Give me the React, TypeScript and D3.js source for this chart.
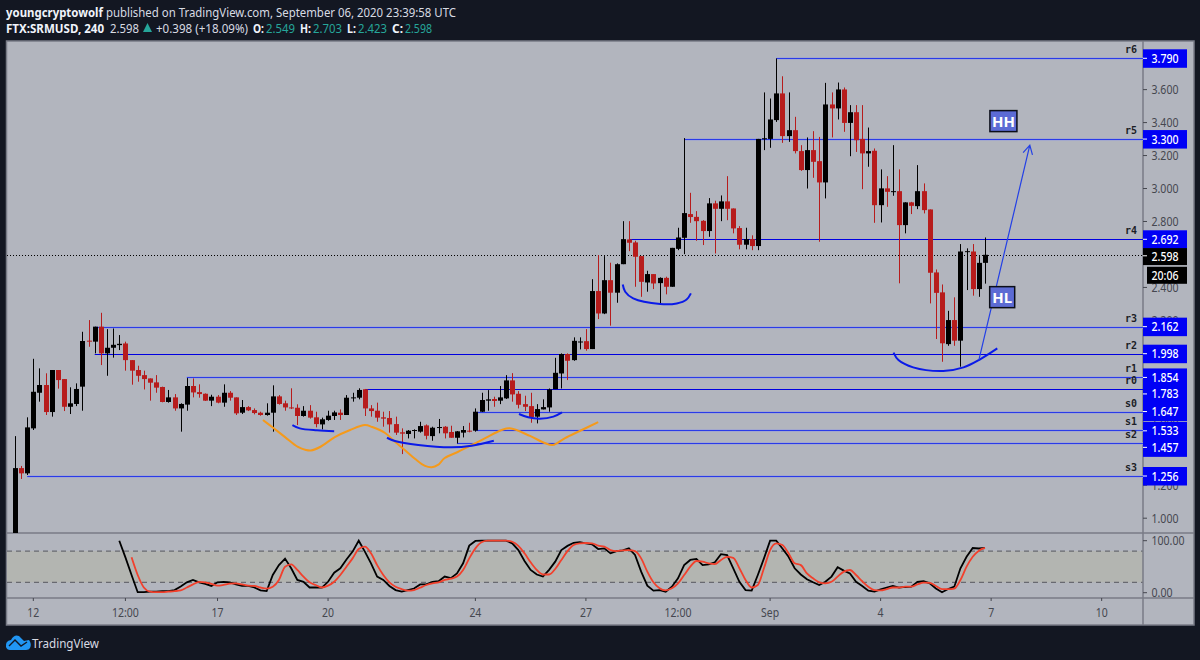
import React from "react";
import * as d3 from "d3";

// --- candles (index = 4h bar number) ---
const opens = [
  0.85,1.304,1.272,1.545,1.761,1.808,1.644,1.899,1.844,1.676,
  1.693,1.798,2.077,2.071,2.162,2.000,2.034,2.050,2.060,1.959,
  1.899,1.868,1.848,1.824,1.796,1.705,1.733,1.666,1.689,1.802,
  1.765,1.755,1.713,1.737,1.701,1.761,1.733,1.640,1.674,1.656,
  1.640,1.626,1.640,1.739,1.697,1.672,1.670,1.620,1.652,1.612,
  1.569,1.596,1.620,1.640,1.626,1.729,1.731,1.782,1.666,1.652,
  1.612,1.608,1.571,
  1.521,1.511,1.531,1.525,1.563,1.498,1.547,1.555,1.523,1.488,1.519,1.531,1.531,
  1.646,1.713,1.723,1.713,1.727,1.836,1.755,1.692,1.680,1.616,1.660,1.672,1.783,1.878,1.996,1.959,2.066,2.074,2.026,2.378,2.242,2.444,2.368,2.541,2.691,2.673,2.590,2.430,2.481,2.426,2.458,2.404,2.634,
  2.701,2.845,2.828,2.804,2.742,2.910,2.877,2.922,2.879,2.760,2.659,2.693,2.651,3.299,3.301,3.415,3.577,3.318,3.354,3.227,3.112,3.233,3.166,3.037,3.510,3.486,3.601,3.398,3.463,3.301,3.213,3.229,2.899,3.001,2.980,2.984,2.778,2.916,2.893,2.984,2.873,2.491,2.370,2.056,2.202,2.077,2.618,2.618,2.390,2.549,
];
const highs = [
  1.498,1.317,1.612,1.967,1.909,1.879,1.899,1.899,1.844,1.794,
  1.818,2.131,2.202,2.162,2.246,2.147,2.151,2.111,2.071,1.959,
  1.925,1.895,1.848,1.868,1.798,1.778,1.753,1.697,1.850,1.848,
  1.812,1.757,1.749,1.747,1.812,1.771,1.733,1.717,1.680,1.666,
  1.646,1.697,1.806,1.747,1.713,1.788,1.691,1.680,1.686,1.646,
  1.610,1.652,1.652,1.660,1.747,1.761,1.788,1.784,1.686,1.701,
  1.646,1.650,1.616,
  1.545,1.535,1.539,1.585,1.569,1.555,1.602,1.559,1.561,1.529,1.559,1.579,1.666,
  1.761,1.777,1.737,1.802,1.868,1.880,1.771,1.743,1.761,1.692,1.721,1.787,1.973,2.000,2.000,2.097,2.097,2.147,2.450,2.596,2.590,2.550,2.546,2.802,2.802,2.683,2.590,2.501,2.481,2.461,2.465,2.640,2.762,
  3.306,2.974,2.863,2.808,2.942,2.926,2.958,3.075,2.879,2.772,2.762,2.716,3.301,3.583,3.546,3.789,3.681,3.583,3.435,3.263,3.310,3.348,3.313,3.641,3.583,3.643,3.613,3.506,3.506,3.506,3.370,3.243,3.116,3.075,3.263,3.116,2.917,2.919,3.142,3.031,2.873,2.509,2.418,2.258,2.340,2.663,2.637,2.663,2.590,2.703,
];
const lows = [
  0.80,1.238,1.262,1.535,1.707,1.626,1.616,1.786,1.650,1.632,
  1.680,1.652,2.040,2.000,1.929,1.864,1.974,2.020,1.895,1.810,
  1.828,1.781,1.713,1.761,1.703,1.701,1.652,1.525,1.652,1.733,
  1.731,1.711,1.680,1.697,1.676,1.713,1.626,1.632,1.650,1.630,
  1.622,1.622,1.525,1.689,1.652,1.662,1.565,1.616,1.604,1.551,
  1.539,1.591,1.596,1.596,1.626,1.707,1.721,1.620,1.616,1.585,
  1.555,1.519,1.505,
  1.389,1.484,1.484,1.519,1.478,1.470,1.515,1.484,1.488,1.454,1.490,1.521,1.525,
  1.644,1.652,1.676,1.692,1.723,1.707,1.666,1.650,1.579,1.575,1.660,1.646,1.783,1.787,1.838,1.955,2.024,2.016,2.026,2.208,2.238,2.168,2.307,2.541,2.620,2.404,2.343,2.374,2.390,2.303,2.358,2.404,2.626,
  2.602,2.792,2.683,2.657,2.707,2.606,2.802,2.808,2.728,2.631,2.631,2.626,2.626,3.233,3.247,3.404,3.277,3.283,3.213,3.107,3.000,3.065,2.677,2.940,3.310,3.419,3.344,3.196,3.222,2.996,3.132,2.792,2.794,2.889,2.956,2.425,2.728,2.845,2.875,2.849,2.303,2.087,1.949,2.046,2.046,1.919,2.384,2.350,2.343,2.423,
];
const closes = [
  1.304,1.272,1.551,1.767,1.808,1.644,1.899,1.838,1.676,1.697,
  1.784,2.075,2.071,2.162,2.000,2.034,2.052,2.058,1.959,1.895,
  1.864,1.844,1.822,1.792,1.705,1.733,1.666,1.693,1.802,1.763,
  1.753,1.713,1.737,1.701,1.761,1.731,1.636,1.674,1.654,1.638,
  1.626,1.640,1.739,1.693,1.672,1.666,1.620,1.652,1.610,1.571,
  1.600,1.622,1.642,1.626,1.731,1.733,1.778,1.666,1.650,1.610,
  1.604,1.569,1.519,
  1.513,1.531,1.535,1.559,1.500,1.549,1.553,1.515,1.488,1.527,1.535,1.525,1.646,
  1.717,1.721,1.711,1.733,1.836,1.751,1.688,1.676,1.612,1.662,1.674,1.781,1.882,1.996,1.955,2.076,2.072,2.026,2.378,2.242,2.444,2.368,2.541,2.693,2.671,2.586,2.434,2.481,2.424,2.458,2.404,2.640,2.703,
  2.851,2.827,2.802,2.742,2.910,2.877,2.922,2.877,2.758,2.659,2.693,2.651,3.301,3.305,3.419,3.577,3.318,3.354,3.227,3.112,3.233,3.162,3.037,3.510,3.486,3.601,3.398,3.463,3.293,3.213,3.227,2.899,3.001,2.980,2.984,2.778,2.916,2.895,2.984,2.869,2.489,2.367,2.061,2.202,2.077,2.618,2.620,2.390,2.549,2.598,
];

// --- stochastic pane ---
const kStart = 17;
const kValues = [
  100,68,34,1,1,2,2,3,3,5,12,20,24.5,20,17,13,20,21,20,16,13,13,10,4.5,3,34,53,65.5,47,24.5,21,10,10,9.7,21,38.5,47,64,79,100,79,56.5,31,24.5,13,5,
  2,5,8,16,16,21,22,31,28,37,56.5,90.5,99.5,100,100,100,100,100,95,82,61,43.7,35,31,44,59.7,82,90,96,97,95,93,84,85.3,75.7,80,81.5,85.3,72.5,40.5,13.5,4,5,2,11.6,27.6,53,63,65,53,54.6,58.4,74,72.5,47,21,5,4,34,66,100,100,85,69,47,
  35,26,20,14.8,21,31,49,42.4,37,21,13,4,2,6.5,9.7,13,9.7,11,11.6,21,22,18,8,1,7,11.6,47,69,86,85,86,
];
const dStart = 19;
const dValues = [
  68,34,10,2,1,1,2,3,4.5,10,16,21,20,17,13.5,15,17.5,18,16,13.5,13,10,8,11.6,24.5,50,54.6,43.7,31,20,14.8,10,13.5,21,34,50,66,84,88.5,75.7,53,34,20,11.6,
  7,4,5,9.7,14.8,18,20,24.5,27,31,43.7,66,85.3,97,100,100,100,100,98,90,75.7,58.4,43.7,35,35,45.6,63,80,91.7,95,95.6,95,90.5,88.5,82,80,81.5,82,80,66,40.5,20,8.4,4.5,8.4,18,34,50,61,59.7,56.5,55,63,69,67,47,24.5,10,14.8,47,82,95,91.7,75.7,56.5,
  53,37,27.6,20,18,21,31,40.5,43.7,34,22,11.6,5,4.5,7,10,10,11.6,11.6,16,19.3,18.7,13,7,7,8,24.5,50,69,80.8,86,
];

// --- price levels ---
const levelNames = ["r6","r5","r4","r3","r2","r1","r0","s0","s1","s2","s3"];
const levelPrices = [3.79,3.3,2.692,2.162,1.998,1.854,1.783,1.647,1.533,1.457,1.256];
const levelStartBars = [124,109,100,13,13,28,57,75,75,72,2];
const thinLevels = ["r4","r2","r0"];
const lastPrice = 2.598;
const countdown = "20:06";
const priceTicks = [1.0,1.2,1.6,2.2,2.4,2.8,3.0,3.2,3.4,3.6];
const stochTicks = [100,0];
const stochBands = [80,20];

// --- time axis ---
const timeTickBars = [3,18,33,51,75,93,108,123,141,159,177];
const timeTickLabels = ["12","12:00","17","20","24","27","12:00","Sep","4","7","10"];

// --- drawings, as [bar, price] ---
const orangeCurve: [number,number][] = [[40.4,1.596],[41.9,1.553],[44,1.492],[46.1,1.432],[47.4,1.414],[48.2,1.411],[49.7,1.432],[52.1,1.492],[54.6,1.535],[57,1.565],[58.2,1.553],[60.3,1.517],[61.9,1.464],[63.5,1.414],[65.2,1.359],[66.8,1.317],[67.9,1.309],[68.9,1.323],[70,1.365],[72.2,1.403],[74.4,1.444],[76.6,1.486],[79.3,1.535],[80.6,1.545],[83.9,1.499],[86.3,1.456],[87.6,1.444],[89.6,1.486],[92,1.529],[95,1.583]];
const arcA: [number,number][] = [[45.2,1.565],[46.4,1.545],[49.2,1.533],[52,1.528]];
const arcB: [number,number][] = [[60.6,1.488],[61.9,1.468],[65.7,1.444],[71.1,1.43],[74.4,1.44],[78,1.47]];
const arcC: [number,number][] = [[82.1,1.632],[83.6,1.612],[85.5,1.604],[87.7,1.616],[89.1,1.642]];
const arcD: [number,number][] = [[99,2.418],[99.4,2.374],[100.7,2.333],[105.1,2.299],[107.8,2.303],[109.4,2.327],[110.1,2.364]];
const arcE: [number,number][] = [[143.1,2.004],[143.9,1.959],[146.3,1.915],[151.2,1.893],[154.5,1.915],[157.2,1.964],[160,2.03]];
const arrowFrom: [number,number] = [157,1.959];
const arrowTo: [number,number] = [165.3,3.263];
const noteHH: [number,number] = [161,3.409];
const noteHL: [number,number] = [160.8,2.341];

const W = 1200, H = 660;
const paneLeft = 7, paneRight = 1143, frameRight = 1194, frameTop = 41, frameBottom = 625, priceBottom = 533, stochBottom = 598;
const BG = "#131722";
const PANE = "#b2b5be";
const GRID = "#787b86";
const AXIS_TEXT = "#45474f";
const BLUE = "#0000f5";
const UP = "#000000";
const DOWN = "#b71c1c";
const TEAL = "#26a69a";
const FONT = "'Noto Sans', sans-serif";

const x = d3.scaleLinear().domain([0, 158]).range([14.9, 985]);
const y = d3.scaleLinear().domain([1, 3.79]).range([518.2, 58.3]);
const ys = d3.scaleLinear().domain([0, 100]).range([592.7, 540.7]);

const curveLine = d3.line<[number,number]>().x((d) => x(d[0])).y((d) => y(d[1])).curve(d3.curveCatmullRom.alpha(0.5));
const kLine = d3.line<number>().x((_, i) => x(kStart + i)).y((v) => ys(v));
const dLine = d3.line<number>().x((_, i) => x(dStart + i)).y((v) => ys(v)).curve(d3.curveMonotoneX);

// the reference font is narrower than any installed one, so numbers are fitted to their measured widths
const fit = (s: string) => s.length * 6 - (s.match(/[.:]/g) || []).length * 3;
const Num = (p: any) => <text {...p} textLength={p.w ?? fit(String(p.children))} lengthAdjust="spacingAndGlyphs" />;

// label displacement where the stacked price labels would collide
const labelShift = (nm: string) => (nm === "r0" ? 4.8 : nm === "s2" ? 4.5 : nm === "s1" ? 0.5 : 0);

function Arrow() {
  const x0 = x(arrowFrom[0]), y0 = y(arrowFrom[1]), x1 = x(arrowTo[0]), y1 = y(arrowTo[1]);
  const ang = Math.atan2(y1 - y0, x1 - x0);
  const len = 10, spread = 0.5;
  const hx = (a: number) => x1 - len * Math.cos(ang + a);
  const hy = (a: number) => y1 - len * Math.sin(ang + a);
  return (
    <path
      d={`M${x0},${y0}L${x1},${y1}M${hx(spread)},${hy(spread)}L${x1},${y1}L${hx(-spread)},${hy(-spread)}`}
      fill="none"
      stroke="#2340e6"
      strokeWidth={1.2}
    />
  );
}

function Note({ at, text, w }: { at: [number, number]; text: string; w: number }) {
  const cx = x(at[0]), cy = y(at[1]);
  return (
    <g>
      <rect x={cx - w / 2} y={cy - 10.5} width={w} height={21} fill="#5c6bd4" stroke="#0b0e18" strokeWidth={1.5} />
      <text x={cx} y={cy + 5.5} textAnchor="middle" fontFamily={FONT} fontWeight={700} fontSize={15} fill="#ffffff">{text}</text>
    </g>
  );
}

export default function App() {
  const n = opens.length;
  const bars = d3.range(n);
  return (
    <svg width={W} height={H} viewBox={`0 0 ${W} ${H}`} style={{ position: "absolute", left: 0, top: 0, display: "block" }}>
      <defs>
        <clipPath id="pricePane"><rect x={paneLeft} y={frameTop} width={paneRight - paneLeft} height={priceBottom - frameTop} /></clipPath>
      </defs>
      <rect width={W} height={H} fill={BG} />

      {/* header */}
      <text x={6} y={16.5} fontFamily={FONT} fontSize={12.5} fill="#d8dbe3" textLength={450} lengthAdjust="spacingAndGlyphs">
        <tspan fontWeight={700} fill="#f0f3fa">youngcryptowolf</tspan>
        <tspan> published on TradingView.com, September 06, 2020 23:39:58 UTC</tspan>
      </text>
      <g fontFamily={FONT} fontSize={12.5}>
        <Num x={6} y={32.5} w={98} fontWeight={700} fill="#f0f3fa">FTX:SRMUSD, 240</Num>
        <Num x={110} y={32.5} w={29} fill="#d8dbe3">2.598</Num>
        <path d={d3.line()([[143, 32], [152, 32], [147.5, 23]]) + "Z"} fill={TEAL} />
        <Num x={156} y={32.5} w={92} fill="#d8dbe3">+0.398 (+18.09%)</Num>
        <Num x={253} y={32.5} w={11} fontWeight={700} fill="#f0f3fa">O:</Num>
        <Num x={266} y={32.5} w={29} fill={TEAL}>2.549</Num>
        <Num x={300} y={32.5} w={11} fontWeight={700} fill="#f0f3fa">H:</Num>
        <Num x={313} y={32.5} w={29} fill={TEAL}>2.703</Num>
        <Num x={347} y={32.5} w={9} fontWeight={700} fill="#f0f3fa">L:</Num>
        <Num x={358} y={32.5} w={29} fill={TEAL}>2.423</Num>
        <Num x={392} y={32.5} w={11} fontWeight={700} fill="#f0f3fa">C:</Num>
        <Num x={405} y={32.5} w={27} fill={TEAL}>2.598</Num>
      </g>

      {/* frame */}
      <rect x={paneLeft - 0.5} y={frameTop} width={frameRight - paneLeft + 0.5} height={frameBottom - frameTop} fill={PANE} stroke={GRID} strokeWidth={1.5} />

      {/* stochastic band */}
      <rect x={paneLeft} y={ys(stochBands[0])} width={paneRight - paneLeft} height={ys(stochBands[1]) - ys(stochBands[0])} fill="#b3b5b1" />
      {stochBands.map((b) => (
        <line key={b} x1={paneLeft} x2={paneRight} y1={ys(b)} y2={ys(b)} stroke="#55575e" strokeWidth={1} strokeDasharray="5 4" />
      ))}

      {/* separators */}
      <line x1={paneLeft} x2={frameRight} y1={priceBottom} y2={priceBottom} stroke={GRID} strokeWidth={1.5} />
      <line x1={paneLeft} x2={frameRight} y1={stochBottom} y2={stochBottom} stroke={GRID} strokeWidth={1.5} />
      <line x1={paneRight} x2={paneRight} y1={frameTop} y2={frameBottom} stroke={GRID} strokeWidth={1.5} />

      {/* level lines */}
      <g clipPath="url(#pricePane)">
        {levelPrices.map((p, i) => {
          const thin = thinLevels.includes(levelNames[i]);
          const ly = Math.round(y(p)) + 0.5;
          return (
            <g key={levelNames[i]}>
              {!thin && <line x1={x(levelStartBars[i])} x2={paneRight} y1={ly} y2={ly} stroke="#dcdccb" strokeOpacity={0.65} strokeWidth={3} />}
              <line x1={x(levelStartBars[i])} x2={paneRight} y1={ly} y2={ly} stroke={thin ? "#0000e0" : "#2a3be8"} strokeWidth={thin ? 1 : 1.6} />
            </g>
          );
        })}
        <line x1={paneLeft} x2={paneRight} y1={Math.round(y(lastPrice)) + 0.5} y2={Math.round(y(lastPrice)) + 0.5} stroke="#000" strokeWidth={1} strokeDasharray="1 2" />

        {/* candles */}
        {bars.map((i) => {
          const cx = Math.round(x(i));
          const up = closes[i] >= opens[i];
          const col = up ? UP : DOWN;
          const top = y(Math.max(opens[i], closes[i]));
          const bot = y(Math.min(opens[i], closes[i]));
          return (
            <g key={i}>
              <line x1={cx + 0.5} x2={cx + 0.5} y1={y(highs[i])} y2={y(lows[i])} stroke={col} strokeWidth={1} />
              <rect x={cx - 2} y={top} width={5} height={Math.max(bot - top, 1)} fill={col} />
            </g>
          );
        })}

        {/* drawings */}
        <path d={curveLine(orangeCurve)!} fill="none" stroke="#f59a1b" strokeWidth={2} />
        {[arcA, arcB, arcC, arcD, arcE].map((a, i) => (
          <path key={i} d={curveLine(a)!} fill="none" stroke="#0a1ae8" strokeWidth={2} />
        ))}
        <Arrow />
      </g>
      <Note at={noteHH} text="HH" w={27} />
      <Note at={noteHL} text="HL" w={25} />

      {/* stochastic lines */}
      <path d={kLine(kValues)!} fill="none" stroke="#000" strokeWidth={1.8} />
      <path d={dLine(dValues)!} fill="none" stroke="#f2402c" strokeWidth={1.8} />

      {/* price axis */}
      <g fontFamily={FONT} fontSize={12.5} fill={AXIS_TEXT}>
        {priceTicks.map((t) => (
          <g key={t}>
            <line x1={paneRight} x2={paneRight + 4} y1={y(t)} y2={y(t)} stroke={AXIS_TEXT} />
            <Num x={1151.5} y={y(t) + 4.5}>{t.toFixed(3)}</Num>
          </g>
        ))}
        {stochTicks.map((t) => (
          <g key={t}>
            <line x1={paneRight} x2={paneRight + 4} y1={ys(t)} y2={ys(t)} stroke={AXIS_TEXT} />
            <Num x={1151.5} y={ys(t) + 4.5}>{t.toFixed(2)}</Num>
          </g>
        ))}
      </g>

      {/* level labels */}
      <g fontFamily={FONT} fontSize={12.5}>
        {levelPrices.map((p, i) => (
          <rect key={p} x={paneRight} y={y(p) + labelShift(levelNames[i]) - 9} width={44} height={18.5} fill={BLUE} />
        ))}
        {levelPrices.map((p, i) => {
          const ly = y(p) + labelShift(levelNames[i]);
          return (
            <g key={p}>
              <line x1={paneRight} x2={paneRight + 4} y1={ly} y2={ly} stroke="#fff" />
              <Num x={1151.5} y={ly + 4.5} fill="#fff" fontWeight={500}>{p.toFixed(3)}</Num>
            </g>
          );
        })}
        <rect x={paneRight} y={y(lastPrice) - 6.7} width={44} height={17} fill="#000" />
        <line x1={paneRight} x2={paneRight + 4} y1={y(lastPrice) + 1} y2={y(lastPrice) + 1} stroke="#fff" />
        <Num x={1151.5} y={y(lastPrice) + 6} fill="#fff" fontWeight={500}>{lastPrice.toFixed(3)}</Num>
        <rect x={1147} y={y(lastPrice) + 12} width={40} height={17} fill="#000" />
        <Num x={1151.5} y={y(lastPrice) + 25.5} fill="#fff" fontWeight={500}>{countdown}</Num>
      </g>
      <g fontFamily="'DejaVu Sans Mono', monospace" fontSize={10} fontWeight={700} fill="#1c1e26" textAnchor="end">
        {levelNames.map((nm, i) => (
          <text key={nm} x={1137} y={y(levelPrices[i]) - 5}>{nm}</text>
        ))}
      </g>

      {/* time axis */}
      <g fontFamily={FONT} fontSize={12.5} fill={AXIS_TEXT} textAnchor="middle">
        {timeTickBars.map((b, i) => (
          <g key={i}>
            <line x1={x(b)} x2={x(b)} y1={stochBottom} y2={stochBottom + 3} stroke={AXIS_TEXT} />
            <Num x={x(b)} y={616.5}>{timeTickLabels[i]}</Num>
          </g>
        ))}
      </g>

      {/* logo */}
      <path d="M6 647 Q5 641 11 640 Q14 634 19 636 L24 641 L29 640 Q32 644 30 648 Q29 650 26 650 L10 650 Q7 650 6 647Z" fill="#2196f3" />
      <path d="M9 646 L15 640 L21 646 L27 642" fill="none" stroke="#131722" strokeWidth={1.4} />
      <text x={32} y={648} fontFamily={FONT} fontSize={12.5} fill="#d8dbe3" textLength={67} lengthAdjust="spacingAndGlyphs">TradingView</text>
    </svg>
  );
}
